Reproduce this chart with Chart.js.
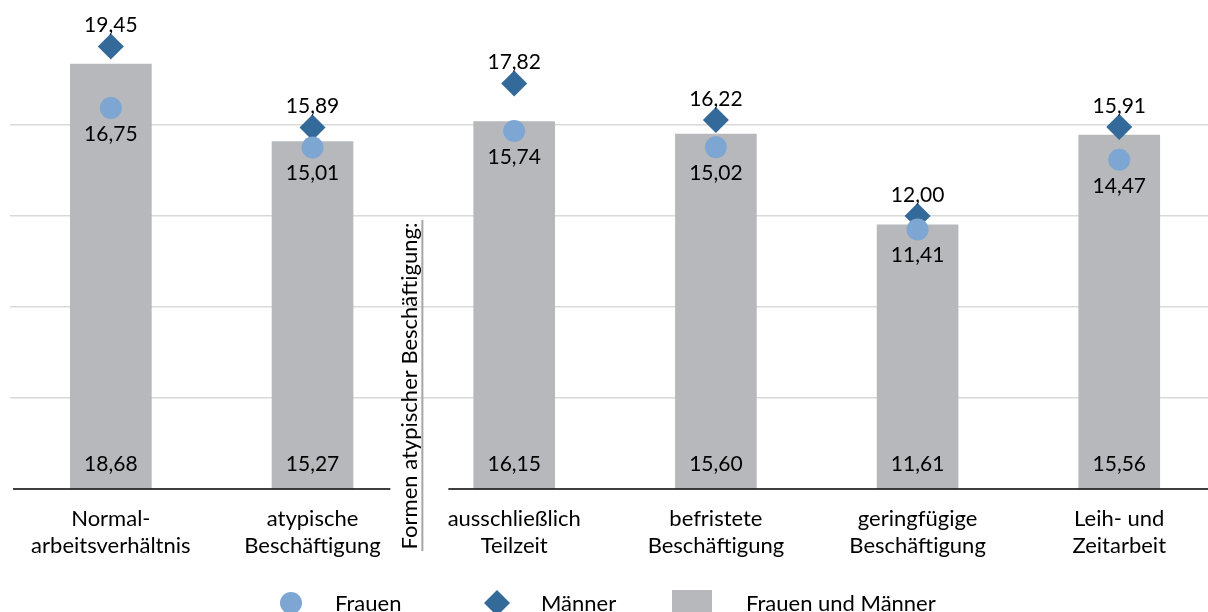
<!DOCTYPE html>
<html lang="de">
<head>
<meta charset="utf-8">
<title>Bruttostundenlöhne nach Erwerbsform</title>
<script src="https://cdn.jsdelivr.net/npm/chart.js@4.4.1/dist/chart.umd.min.js"></script>
<style>
    html, body { margin: 0; padding: 0; background: #fff; overflow: hidden; }
    #wageChart { display: block; }
</style>
</head>
<body>
<canvas id="wageChart" width="1208" height="612"></canvas>
<script>
// --- Data ---
const categories = [
    ['Normal-', 'arbeitsverhältnis'],
    ['atypische', 'Beschäftigung'],
    ['ausschließlich', 'Teilzeit'],
    ['befristete', 'Beschäftigung'],
    ['geringfügige', 'Beschäftigung'],
    ['Leih- und', 'Zeitarbeit']
];
const frauen = [16.75, 15.01, 15.74, 15.02, 11.41, 14.47];
const maenner = [19.45, 15.89, 17.82, 16.22, 12.00, 15.91];
const gesamt = [18.68, 15.27, 16.15, 15.60, 11.61, 15.56];
const yTicks = [0, 4, 8, 12, 16, 20];
const legendLabels = ['Frauen', 'Männer', 'Frauen und Männer'];
const groupLabel = 'Formen atypischer Beschäftigung:';

// --- Colours / fonts ---
const colorFrauen = '#7ea6d2';
const colorMaenner = '#336a9a';
const colorBar = '#b7b8bc';
const fontFamily = 'Lato, "Open Sans", sans-serif';
const textFont = '22px ' + fontFamily;
const numberFont = '21px ' + fontFamily;

function fmt(v) {
    return v.toFixed(2).replace('.', ',');
}

function toPoints(values) {
    return values.map((v, i) => ({ x: i, y: v }));
}

// --- Plugins ---
// value labels: bars at the bottom, Frauen below the circle, Männer above the diamond
const valueLabels = {
    id: 'valueLabels',
    afterDatasetsDraw(chart) {
        const ctx = chart.ctx;
        ctx.save();
        ctx.font = numberFont;
        ctx.fillStyle = '#000';
        ctx.textAlign = 'center';
        ctx.textBaseline = 'middle';
        chart.data.datasets.forEach((ds, di) => {
            const meta = chart.getDatasetMeta(di);
            meta.data.forEach((el, i) => {
                const v = ds.data[i].y;
                let y;
                if (ds.label === 'Frauen') y = el.y + 26;
                else if (ds.label === 'Männer') y = el.y - 21;
                else y = el.base - 24;
                ctx.fillText(fmt(v), el.x, y);
            });
        });
        ctx.restore();
    }
};

// broken baseline, vertical separator with rotated group label, legend row
const decorations = {
    id: 'decorations',
    afterDraw(chart) {
        const ctx = chart.ctx;
        const xs = chart.scales.x;
        const ys = chart.scales.y;
        const area = chart.chartArea;
        const sep = xs.getPixelForValue(1.5);
        const base = ys.getPixelForValue(0);

        ctx.save();
        // baseline in two pieces
        ctx.strokeStyle = '#000';
        ctx.lineWidth = 1.5;
        ctx.beginPath();
        ctx.moveTo(area.left + 3, base);
        ctx.lineTo(sep - 23, base);
        ctx.moveTo(sep + 35, base);
        ctx.lineTo(area.right, base);
        ctx.stroke();

        // separator line
        ctx.strokeStyle = '#a6a6a6';
        ctx.lineWidth = 2;
        ctx.beginPath();
        ctx.moveTo(sep + 9, 220);
        ctx.lineTo(sep + 9, 551);
        ctx.stroke();

        // rotated group label
        ctx.translate(sep - 3, 386);
        ctx.rotate(-Math.PI / 2);
        ctx.font = textFont;
        ctx.fillStyle = '#000';
        ctx.textAlign = 'center';
        ctx.textBaseline = 'middle';
        ctx.fillText(groupLabel, 0, 0);
        ctx.restore();

        // legend
        ctx.save();
        const ly = 603;
        ctx.fillStyle = colorFrauen;
        ctx.beginPath();
        ctx.arc(291, ly, 11, 0, Math.PI * 2);
        ctx.fill();

        ctx.fillStyle = colorMaenner;
        ctx.beginPath();
        ctx.moveTo(497, ly - 13);
        ctx.lineTo(510, ly);
        ctx.lineTo(497, ly + 13);
        ctx.lineTo(484, ly);
        ctx.closePath();
        ctx.fill();

        ctx.fillStyle = colorBar;
        ctx.fillRect(672, 590, 40, 30);

        ctx.font = textFont;
        ctx.fillStyle = '#000';
        ctx.textAlign = 'left';
        ctx.textBaseline = 'middle';
        ctx.fillText(legendLabels[0], 335, ly + 1);
        ctx.fillText(legendLabels[1], 541, ly + 1);
        ctx.fillText(legendLabels[2], 746, ly + 1);
        ctx.restore();
    }
};

// --- Chart ---
const ctx = document.getElementById('wageChart').getContext('2d');
new Chart(ctx, {
    type: 'bar',
    data: {
        datasets: [
            {
                type: 'line',
                label: 'Frauen',
                data: toPoints(frauen),
                showLine: false,
                pointStyle: 'circle',
                pointRadius: 11,
                pointHoverRadius: 11,
                pointBackgroundColor: colorFrauen,
                pointBorderWidth: 0,
                borderColor: colorFrauen,
                order: 0,
                clip: false
            },
            {
                type: 'line',
                label: 'Männer',
                data: toPoints(maenner),
                showLine: false,
                pointStyle: 'rectRot',
                pointRadius: 13,
                pointHoverRadius: 13,
                pointBackgroundColor: colorMaenner,
                pointBorderWidth: 0,
                borderColor: colorMaenner,
                order: 1,
                clip: false
            },
            {
                label: 'Frauen und Männer',
                data: toPoints(gesamt),
                backgroundColor: colorBar,
                barThickness: 81,
                order: 2
            }
        ]
    },
    options: {
        responsive: false,
        animation: false,
        layout: { autoPadding: false, padding: { left: 10, right: 0, top: 34, bottom: 53 } },
        plugins: {
            legend: { display: false },
            tooltip: { enabled: false }
        },
        scales: {
            x: {
                type: 'linear',
                offset: false,
                min: -0.5,
                max: 5.44,
                grid: { display: false, drawTicks: false, offset: false },
                border: { display: false },
                ticks: {
                    stepSize: 1,
                    includeBounds: false,
                    autoSkip: false,
                    maxRotation: 0,
                    padding: 16,
                    color: '#000',
                    font: { family: fontFamily, size: 22, lineHeight: 27 / 22 },
                    callback: (value) => Number.isInteger(value) ? categories[value] : ''
                },
                afterFit: (scale) => {
                    scale.height = 70;
                    scale.paddingLeft = 0;
                    scale.paddingRight = 0;
                }
            },
            y: {
                min: yTicks[0],
                max: yTicks[yTicks.length - 1],
                afterBuildTicks: (scale) => { scale.ticks = yTicks.map(v => ({ value: v })); },
                ticks: { display: false },
                border: { display: false },
                grid: {
                    drawTicks: false,
                    lineWidth: 1.5,
                    color: (c) => (c.tick && (c.tick.value === 0 || c.tick.value === 20)) ? 'rgba(0,0,0,0)' : '#d9d9d9'
                },
                afterFit: (scale) => { scale.width = 0; }
            }
        }
    },
    plugins: [valueLabels, decorations]
});
</script>
</body>
</html>
